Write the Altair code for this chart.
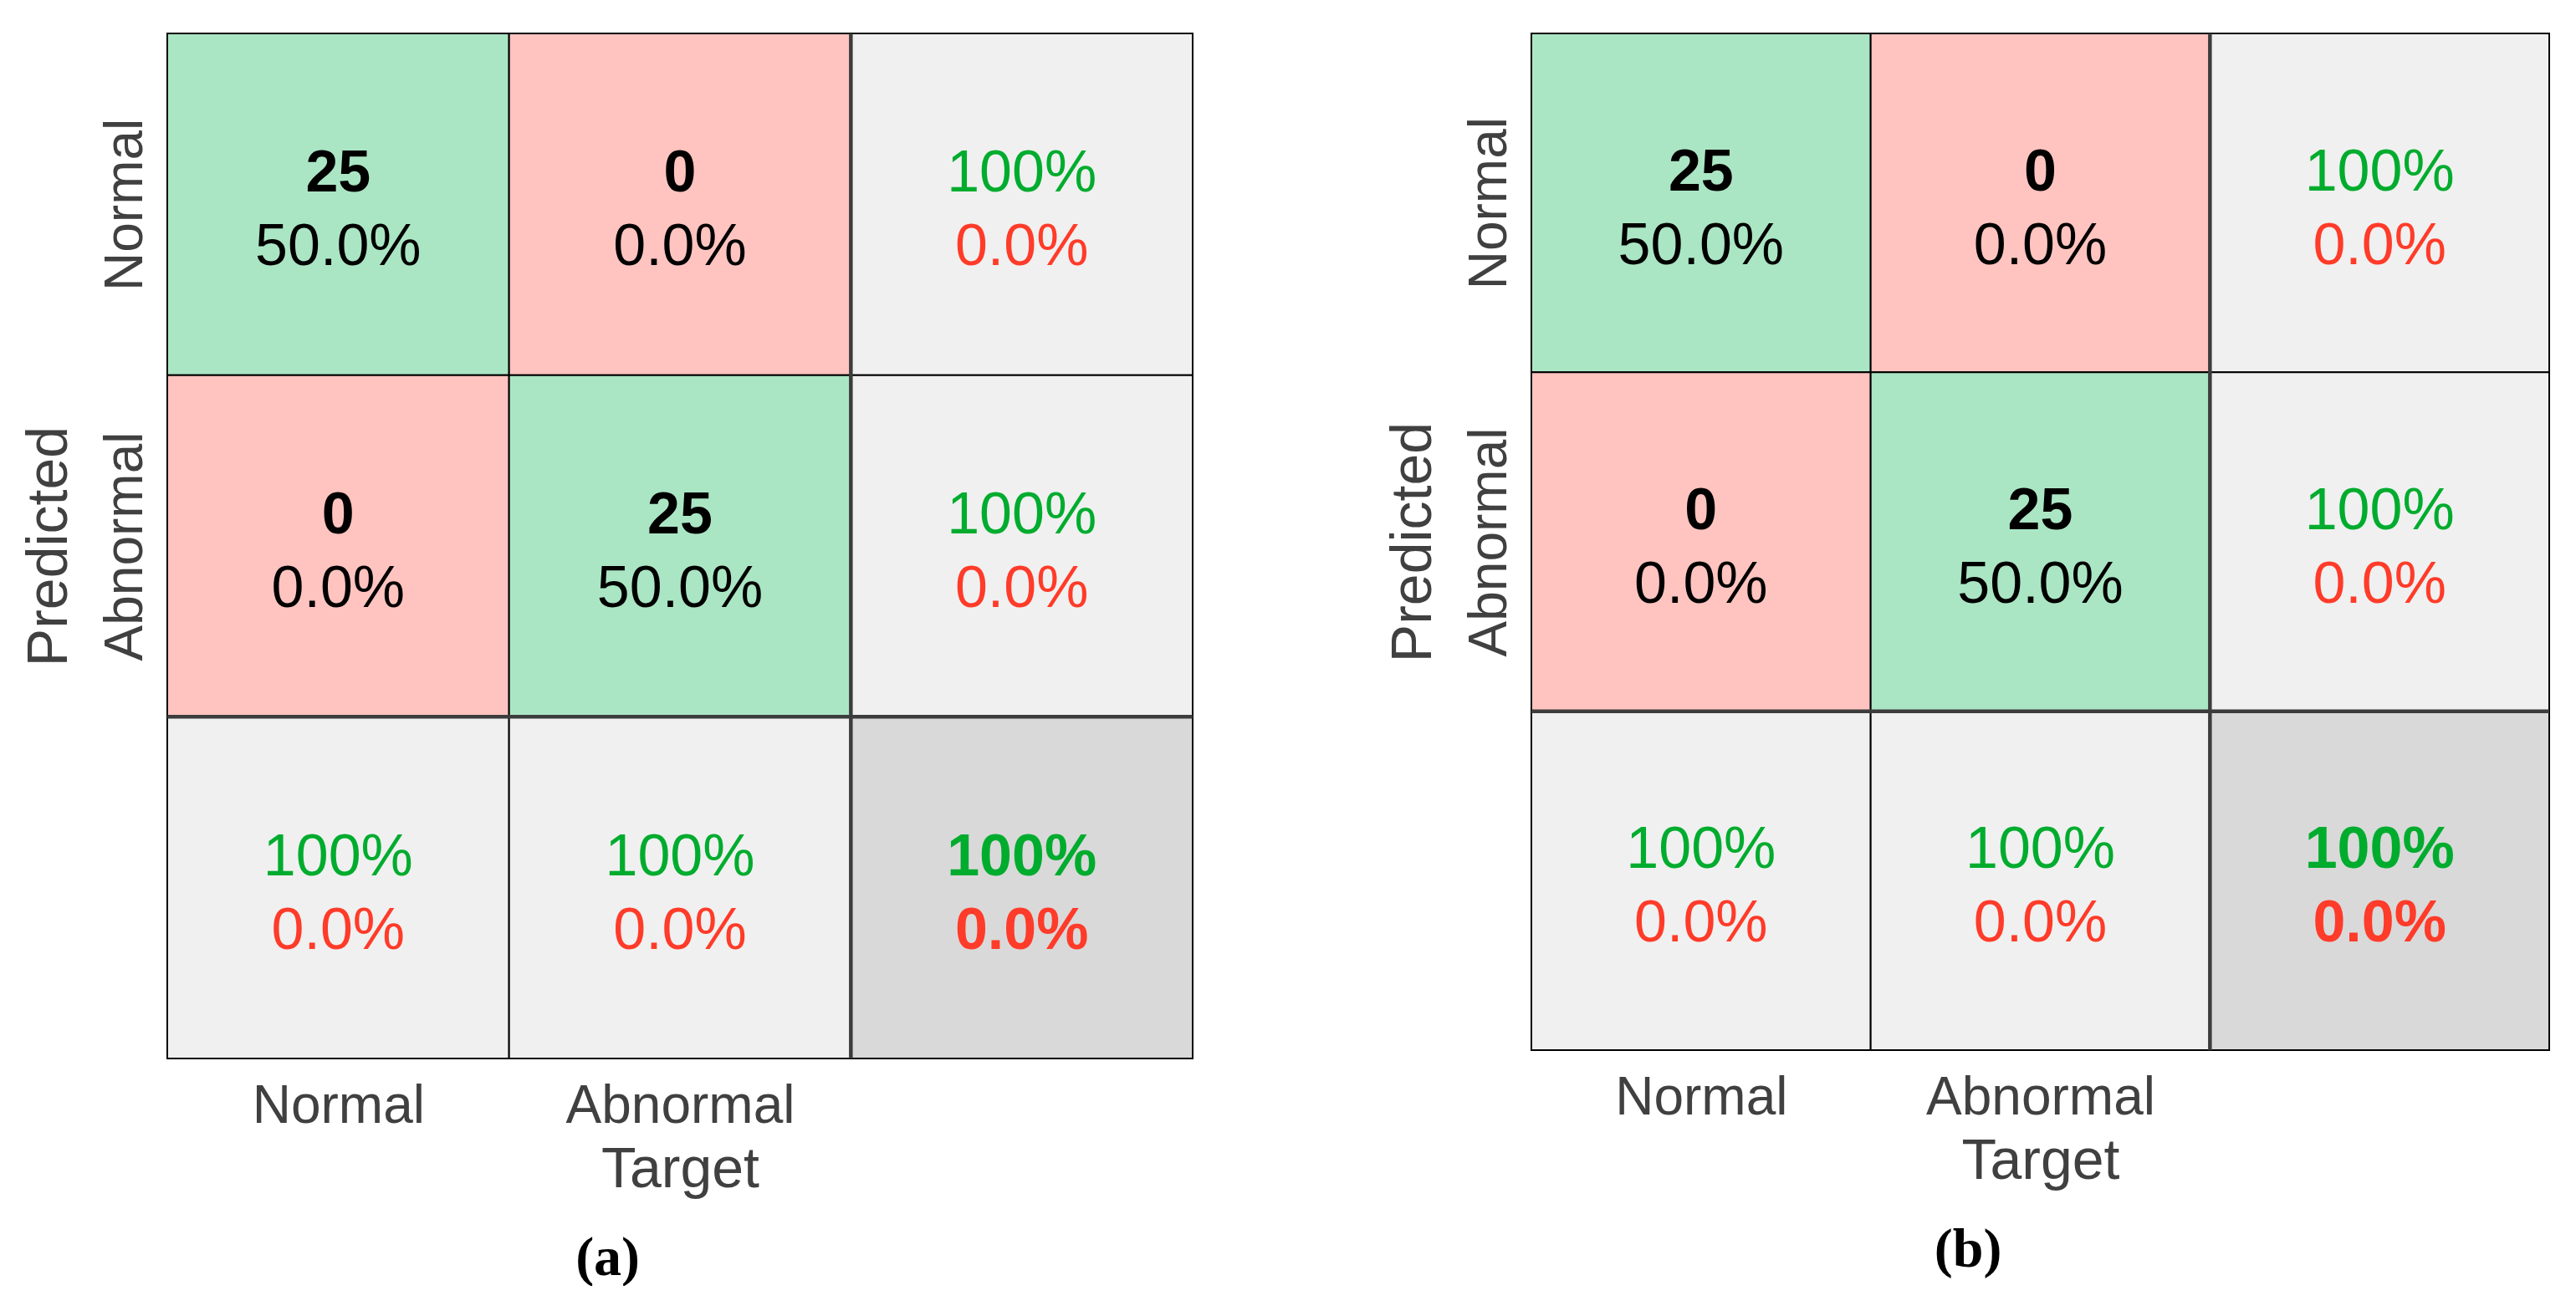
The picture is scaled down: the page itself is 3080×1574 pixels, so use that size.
import altair as alt
import pandas as pd

# ---------------- data ----------------
classes = ["Normal", "Abnormal"]

counts_a = [[25, 0], [0, 25]]
pcts_a = [["50.0%", "0.0%"], ["0.0%", "50.0%"]]
row_acc_a = ["100%", "100%"]
row_err_a = ["0.0%", "0.0%"]
col_acc_a = ["100%", "100%"]
col_err_a = ["0.0%", "0.0%"]
tot_acc_a = "100%"
tot_err_a = "0.0%"

counts_b = [[25, 0], [0, 25]]
pcts_b = [["50.0%", "0.0%"], ["0.0%", "50.0%"]]
row_acc_b = ["100%", "100%"]
row_err_b = ["0.0%", "0.0%"]
col_acc_b = ["100%", "100%"]
col_err_b = ["0.0%", "0.0%"]
tot_acc_b = "100%"
tot_err_b = "0.0%"

# ---------------- style ----------------
FONT = "Liberation Sans"
GREEN_T = "#00ac2e"
RED_T = "#ff3b29"
FILL_DOMAIN = ["hit", "miss", "side", "total"]
FILL_RANGE = ["#abe6c4", "#ffc4c0", "#f0f0f0", "#d9d9d9"]
AXIS_COL = "#404040"
CELL_FS = 70


def build_cells(counts, pcts, row_acc, row_err, col_acc, col_err, tot_acc, tot_err):
    n = len(classes)
    recs = []
    for r in range(n + 1):
        for c in range(n + 1):
            if r < n and c < n:
                kind = "hit" if r == c else "miss"
                l1, c1, b1 = str(counts[r][c]), "#000000", "bold"
                l2, c2, b2 = pcts[r][c], "#000000", "normal"
            elif r < n:
                kind = "side"
                l1, c1, b1 = row_acc[r], GREEN_T, "normal"
                l2, c2, b2 = row_err[r], RED_T, "normal"
            elif c < n:
                kind = "side"
                l1, c1, b1 = col_acc[c], GREEN_T, "normal"
                l2, c2, b2 = col_err[c], RED_T, "normal"
            else:
                kind = "total"
                l1, c1, b1 = tot_acc, GREEN_T, "bold"
                l2, c2, b2 = tot_err, RED_T, "bold"
            recs.append(dict(c0=c, c1=c + 1, r0=r, r1=r + 1, xc=c + 0.5, yc=r + 0.5,
                             kind=kind, l1=l1, col1=c1, w1=b1, l2=l2, col2=c2, w2=b2))
    return pd.DataFrame(recs)


def make_panel(df, letter, w, h):
    n = len(classes)
    label_expr = "datum.value < 1 ? '%s' : (datum.value < 2 ? '%s' : '')" % (classes[0], classes[1])
    tick_vals = [i + 0.5 for i in range(n)]
    xscale = alt.Scale(domain=[0, n + 1], nice=False, zero=False)
    yscale = alt.Scale(domain=[0, n + 1], nice=False, zero=False, reverse=True)
    xaxis = alt.Axis(values=tick_vals, labelExpr=label_expr, title="Target",
                     grid=False, ticks=False, tickSize=0, domain=False,
                     labelFont=FONT, labelFontSize=64, labelColor=AXIS_COL, labelLimit=0,
                     labelBaseline="alphabetic", labelPadding=76,
                     titleFont=FONT, titleFontSize=68, titleFontWeight="normal",
                     titleColor=AXIS_COL, titleBaseline="alphabetic", titleY=153)
    yaxis = alt.Axis(values=tick_vals, labelExpr=label_expr, title="Predicted",
                     grid=False, ticks=False, tickSize=0, domain=False,
                     labelFont=FONT, labelFontSize=64, labelColor=AXIS_COL, labelLimit=0,
                     labelAngle=270, labelAlign="center", labelBaseline="alphabetic",
                     labelPadding=31,
                     titleFont=FONT, titleFontSize=68, titleFontWeight="normal",
                     titleColor=AXIS_COL, titleAngle=270, titleBaseline="alphabetic",
                     titleX=-121)
    base = alt.Chart(df)
    rects = base.mark_rect(stroke="#000000", strokeWidth=2).encode(
        x=alt.X("c0:Q", scale=xscale, axis=xaxis),
        x2="c1:Q",
        y=alt.Y("r0:Q", scale=yscale, axis=yaxis),
        y2="r1:Q",
        fill=alt.Fill("kind:N", scale=alt.Scale(domain=FILL_DOMAIN, range=FILL_RANGE), legend=None),
    )
    layers = [rects]
    for line, dy in (("1", -36), ("2", 52)):
        for wt in ("normal", "bold"):
            t = base.transform_filter(alt.datum["w" + line] == wt).mark_text(
                font=FONT, fontSize=CELL_FS, fontWeight=wt, dy=dy,
                align="center", baseline="middle"
            ).encode(
                x=alt.X("xc:Q", scale=xscale, axis=xaxis),
                y=alt.Y("yc:Q", scale=yscale, axis=yaxis),
                text=alt.Text("l" + line + ":N"),
                color=alt.Color("col" + line + ":N", scale=None),
            )
            layers.append(t)
    rule_df = pd.DataFrame({"x": [n, 0], "x2": [n, n + 1], "y": [0, n], "y2": [n + 1, n]})
    rules = alt.Chart(rule_df).mark_rule(color="#3c3c3c", strokeWidth=4.5).encode(
        x=alt.X("x:Q", scale=xscale, axis=xaxis), x2="x2:Q",
        y=alt.Y("y:Q", scale=yscale, axis=yaxis), y2="y2:Q",
    )
    layers.append(rules)
    return alt.layer(*layers).properties(
        width=w, height=h,
        title=alt.TitleParams(text="(%s)" % letter, orient="bottom", anchor="middle",
                              frame="bounds", font="Liberation Serif", fontSize=66,
                              fontWeight="bold", color="#000000", offset=40),
    )


df_a = build_cells(counts_a, pcts_a, row_acc_a, row_err_a, col_acc_a, col_err_a, tot_acc_a, tot_err_a)
df_b = build_cells(counts_b, pcts_b, row_acc_b, row_err_b, col_acc_b, col_err_b, tot_acc_b, tot_err_b)

left = make_panel(df_a, "a", 1226, 1226)
right = make_panel(df_b, "b", 1217, 1216)

chart = alt.hconcat(left, right, spacing=227).properties(
    padding={"left": 17, "top": 29, "right": 0, "bottom": 0},
    background="#ffffff",
).configure_view(stroke=None)

chart.save("out.html", embed_options={"renderer": "svg", "actions": False})
